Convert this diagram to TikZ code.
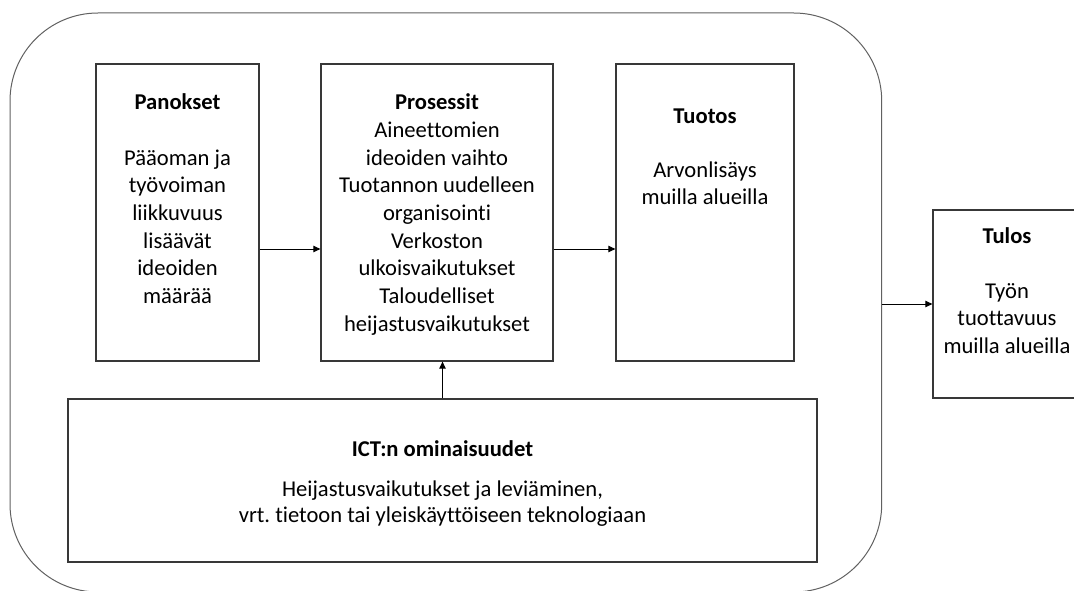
\documentclass[tikz,border=0pt]{standalone}
\usepackage{fontspec}
\setmainfont{Carlito}[Ligatures={NoCommon}]
\usetikzlibrary{arrows.meta}
\frenchspacing
\begin{document}
\begin{tikzpicture}[x=1pt,y=-1pt,
  box/.style={draw=black!78, line width=1.3pt, rectangle, inner sep=0pt},
  outerbox/.style={draw=black!62, line width=1pt, rectangle, rounded corners=88pt, inner sep=0pt},
  arr/.style={draw=black, line width=1pt, -{Triangle[length=7pt,width=6.5pt]}},
  ttl/.style={anchor=north, align=center, inner sep=0pt, font=\fontsize{22.6}{27.7}\selectfont\bfseries},
  txt/.style={anchor=north, align=center, inner sep=0pt, font=\fontsize{22.6}{27.7}\selectfont},
  txtict/.style={anchor=north, align=center, inner sep=0pt, font=\fontsize{22.6}{26.5}\selectfont}]
\useasboundingbox (0,0) rectangle (1074,591);
\clip (0,0) rectangle (1074,591);
% outer rounded frame
\node[outerbox, minimum width=871.7pt, minimum height=579pt] (outer) at (445.85,302.5) {};
% boxes
\node[box, minimum width=163pt, minimum height=297pt] (panbox) at (177.5,212.5) {};
\node[box, minimum width=232pt, minimum height=297pt] (prosbox) at (437,212.5) {};
\node[box, minimum width=178pt, minimum height=297pt] (tuobox) at (705,212.5) {};
\node[box, minimum width=148pt, minimum height=188pt] (tulbox) at (1007,304) {};
\node[box, minimum width=749pt, minimum height=163pt] (ictbox) at (442.5,480.5) {};
% texts (node top = baseline - 19.39)
\node[ttl] (panttl) at (177.5,89.6) {\strut Panokset};
\node[txt] (pantxt) at (177.5,145.6) {\strut Pääoman ja\\ työvoiman\\ liikkuvuus\\ lisäävät\\ ideoiden\\ määrää};
\node[ttl] (prosttl) at (437,89.6) {\strut Prosessit};
\node[txt] (prostxt) at (437,117.9) {\strut Aineettomien\\ ideoiden vaihto\\ Tuotannon uudelleen\\ organisointi\\ Verkoston\\ ulkoisvaikutukset\\ Taloudelliset\\ heijastusvaikutukset};
\node[ttl] (tuottl) at (705,103.6) {\strut Tuotos};
\node[txt] (tuotxt) at (705,157.6) {\strut Arvonlisäys\\ muilla alueilla};
\node[ttl] (tulttl) at (1007,223.6) {\strut Tulos};
\node[txt] (tultxt) at (1007,278.6) {\strut Työn\\ tuottavuus\\ muilla alueilla};
\node[ttl] (ictttl) at (442.5,436.6) {\strut ICT:n ominaisuudet};
\node[txtict] (icttxt) at (442.5,477.4) {\strut Heijastusvaikutukset ja leviäminen,\\ vrt. tietoon tai yleiskäyttöiseen teknologiaan};
% connectors
\coordinate (arow) at (0,249);
\draw[arr] (panbox.east |- arow) -- (prosbox.west |- arow);
\draw[arr] (prosbox.east |- arow) -- (tuobox.west |- arow);
\draw[arr] (ictbox.north) -- (ictbox.north |- prosbox.south);
\draw[arr] (outer.east |- tulbox.west) -- (tulbox.west);
\end{tikzpicture}
\end{document}
